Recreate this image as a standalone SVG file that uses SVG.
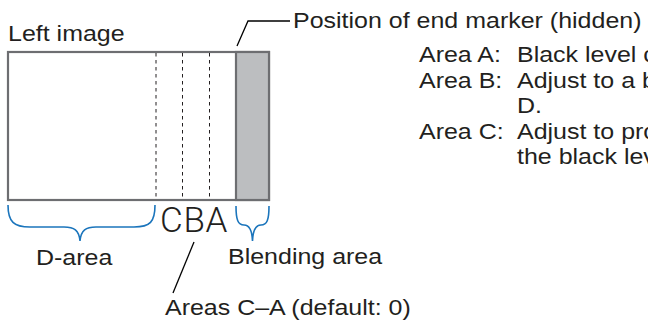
<svg xmlns="http://www.w3.org/2000/svg" width="648" height="322" viewBox="0 0 648 322">
<style>
.t{font-family:"Liberation Sans",Arial,sans-serif;font-size:22px;fill:#231f20}
.cba{font-family:Roboto,"Liberation Sans",sans-serif;font-weight:300;font-size:35px;fill:#231f20;letter-spacing:0.7px}
.frame{fill:#fff;stroke:#6d6e71;stroke-width:2.2}
.blend{fill:#bcbec0;stroke:#6d6e71;stroke-width:2.2}
.dash{stroke:#231f20;stroke-width:1;stroke-dasharray:3.5,3.5;fill:none}
.brace{fill:none;stroke:#1b75bc;stroke-width:1.6}
.lead{fill:none;stroke:#000;stroke-width:1.3}
</style>
<rect width="648" height="322" fill="#fff"/>
<g id="left-image">
<text class="t" transform="translate(8,41) scale(1.136,1)">Left image</text>
<rect class="frame" x="8" y="52" width="261" height="148"/>
<rect class="blend" x="236" y="52" width="33" height="148"/>
<line class="dash" x1="156" y1="53" x2="156" y2="199"/>
<line class="dash" x1="182.5" y1="53" x2="182.5" y2="199"/>
<line class="dash" x1="209.5" y1="53" x2="209.5" y2="199"/>
</g>
<g id="cba-label">
<text class="cba" x="160" y="232">CBA</text>
</g>
<g id="d-area">
<text class="t" transform="translate(36,265) scale(1.136,1)">D-area</text>
</g>
<g id="blending-area">
<text class="t" transform="translate(228,264) scale(1.136,1)">Blending area</text>
</g>
<g id="end-marker">
<text class="t" transform="translate(293,28) scale(1.136,1)">Position of end marker (hidden)</text>
</g>
<g id="areas-ca">
<text class="t" transform="translate(165,315) scale(1.136,1)">Areas C–A (default: 0)</text>
</g>
<g id="legend">
<text class="t" transform="translate(419,62) scale(1.136,1)">Area A:</text><text class="t" transform="translate(517,62) scale(1.136,1)">Black level c</text>
<text class="t" transform="translate(419,88) scale(1.136,1)">Area B:</text><text class="t" transform="translate(517,88) scale(1.136,1)">Adjust to a b</text>
<text class="t" transform="translate(517,113) scale(1.136,1)">D.</text>
<text class="t" transform="translate(419,139) scale(1.136,1)">Area C:</text><text class="t" transform="translate(517,139) scale(1.136,1)">Adjust to pro</text>
<text class="t" transform="translate(517,164) scale(1.136,1)">the black lev</text>
</g>
<g id="connectors">
<path class="brace" d="M8,205 C8,222 14,227 30,227 L64,227 C74,227 79,230 80,241 C81,230 86,227 96,227 L134,227 C150,227 155,222 155,205"/>
<path class="brace" d="M236,206 C236,220 238,225 244,225 C249,225 252,229 252.5,241 C253,229 256,225 261,225 C267,225 269,220 269,206"/>
<polyline class="lead" points="237,46 248,21 290,21"/>
<line class="lead" x1="194" y1="242" x2="173" y2="293"/>
</g>
</svg>
